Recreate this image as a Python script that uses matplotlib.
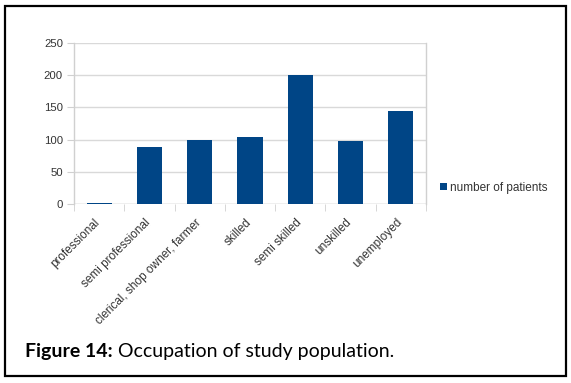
import matplotlib.pyplot as plt
from matplotlib.patches import Rectangle
from matplotlib.transforms import ScaledTranslation

categories = ["professional", "semi professional", "clerical, shop owner, farmer",
              "skilled", "semi skilled", "unskilled", "unemployed"]
patients = [2, 88, 100, 104, 200, 98, 145]
series_name = "number of patients"
yticks = [0, 50, 100, 150, 200, 250]

W, H = 571, 383
fig = plt.figure(figsize=(W / 100, H / 100), dpi=100)
plt.rcParams["font.family"] = ["Liberation Sans", "DejaVu Sans"]

ax = fig.add_axes([74 / W, (H - 204) / H, 352 / W, 161 / H])
x = range(len(categories))
ax.bar(x, patients, width=0.5, color="#004586", label=series_name, zorder=3)

ax.set_xlim(-0.5, len(categories) - 0.5)
ax.set_ylim(0, 250)
ax.set_yticks(yticks)
ax.grid(axis="y", color="#d9d9d9", linewidth=1, zorder=0)

for s in ["top", "bottom"]:
    ax.spines[s].set_visible(False)
for s in ["left", "right"]:
    ax.spines[s].set_color("#d0d0d0")
    ax.spines[s].set_linewidth(1)
ax.axhline(0, color="#d0d0d0", linewidth=1, zorder=1)

ax.set_xticks(list(x))
ax.set_xticklabels(categories, rotation=45, ha="right", rotation_mode="anchor",
                   fontsize=8.5, color="#333333")
ax.tick_params(axis="x", length=0, pad=9)
shift = ScaledTranslation(-5 / 100, 0, fig.dpi_scale_trans)
for lbl in ax.get_xticklabels():
    lbl.set_transform(lbl.get_transform() + shift)
ax.set_xticks([i - 0.5 for i in range(len(categories) + 1)], minor=True)
ax.tick_params(axis="x", which="minor", length=5, color="#d0d0d0")
ax.tick_params(axis="y", length=5, color="#d0d0d0", labelsize=8.2, labelcolor="#333333", pad=3)

ax.legend(loc="center left", bbox_to_anchor=(1.01, 0.1), frameon=False, fontsize=8.5,
          handlelength=0.55, handleheight=0.55, handletextpad=0.3, labelcolor="#333333")

cap_y = 1 - 351 / H
t1 = fig.text(25 / W, cap_y, "Figure 14:", fontsize=14, va="center",
              family="Lato", fontweight="bold")
fig.canvas.draw()
bb = t1.get_window_extent()
fig.text((bb.x1 + 5) / W, cap_y, "Occupation of study population.", fontsize=14,
         va="center", family="Lato")

fig.patches.append(Rectangle((5 / W, 1 - 376 / H), 561 / W, 370 / H, transform=fig.transFigure,
                             fill=False, edgecolor="black", linewidth=1.6))

fig.savefig("out.png", dpi=100)
